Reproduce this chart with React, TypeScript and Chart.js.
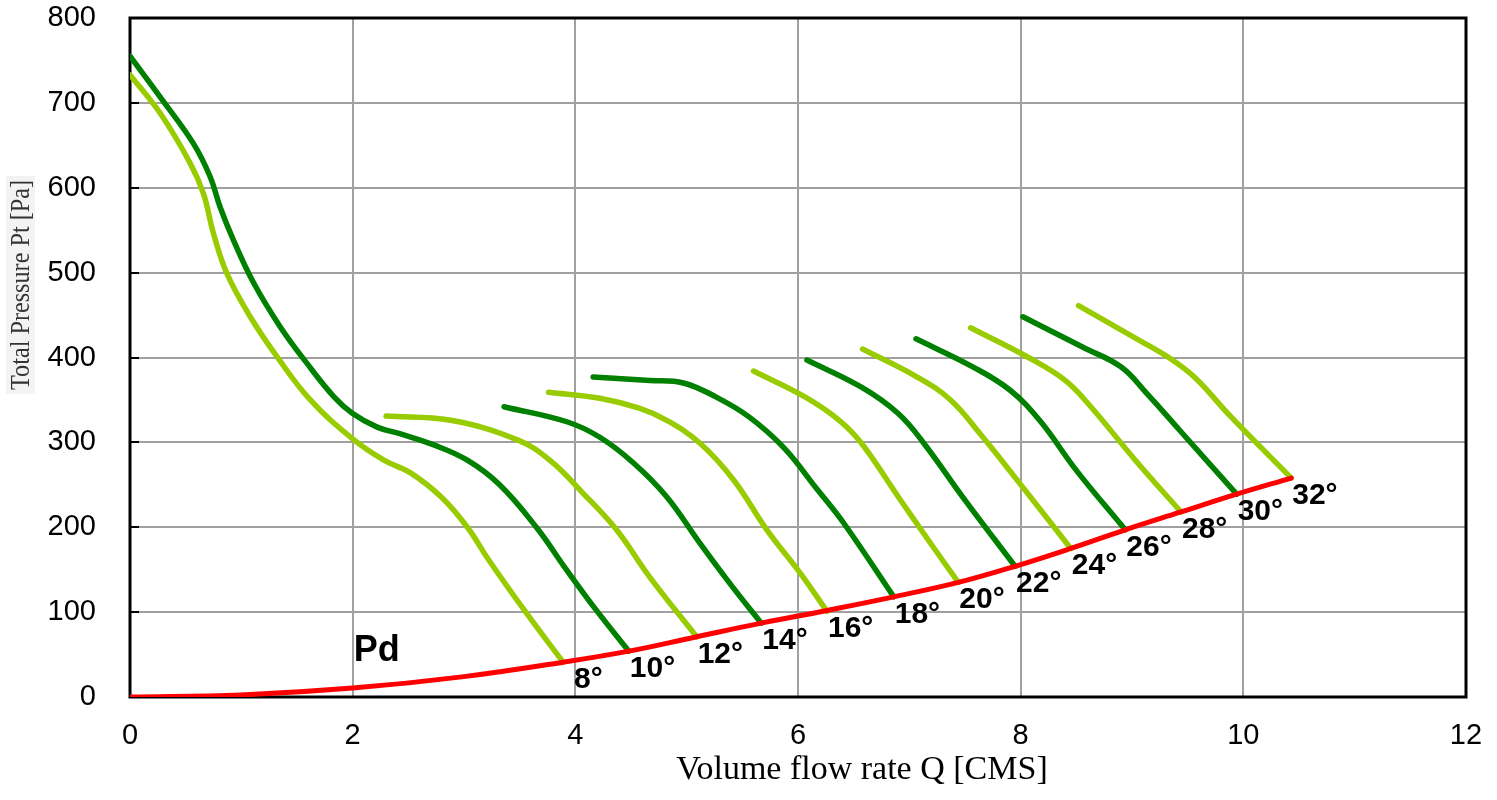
import React, { useEffect, useRef } from "react";
import { Chart, registerables } from "chart.js";

Chart.register(...registerables);

// ---- Data ----
const xTicksMax = 12;
const yTicksMax = 800;

const pdQ = [0, 1, 2, 3, 3.89, 4.48, 5.09, 5.67, 6.26, 6.86, 7.44, 7.95, 8.45, 8.94, 9.44, 9.94, 10.43];
const pdP = [0, 2.5, 10.5, 24, 41, 54, 71, 87, 102, 118, 135, 154, 175, 197, 218, 239, 258];

const q8 = [0, 0.27, 0.54, 0.66, 0.75, 0.87, 1.08, 1.32, 1.62, 2.0, 2.28, 2.52, 2.8, 3.03, 3.23, 3.56, 3.89];
const p8 = [733, 688, 629, 593, 546, 499, 448, 401, 350, 304, 279, 264, 235, 200, 160, 99, 41];

const q10 = [0, 0.27, 0.57, 0.72, 0.81, 0.93, 1.11, 1.35, 1.59, 1.83, 2.0, 2.22, 2.43, 2.73, 3.03, 3.32, 3.65, 3.92, 4.19, 4.48];
const p10 = [755, 707, 652, 613, 577, 538, 488, 436, 393, 354, 334, 318, 310, 297, 279, 250, 200, 150, 102, 54];

const q12 = [2.3, 2.88, 3.48, 3.77, 4.07, 4.37, 4.67, 5.09];
const p12 = [331, 326, 303, 279, 240, 197, 141, 71];

const q14 = [3.36, 3.93, 4.22, 4.52, 4.82, 5.12, 5.41, 5.67];
const p14 = [342, 324, 306, 276, 236, 181, 130, 87];

const q16 = [3.76, 4.22, 4.58, 4.82, 5.12, 5.42, 5.72, 6.02, 6.26];
const p16 = [359, 352, 340, 326, 299, 256, 197, 146, 101];

const q18 = [4.16, 4.67, 4.97, 5.27, 5.56, 5.87, 6.17, 6.41, 6.86];
const p18 = [377, 373, 370, 353, 330, 294, 245, 205, 118];

const q20 = [5.6, 6.07, 6.37, 6.57, 6.9, 7.17, 7.44];
const p20 = [384, 353, 326, 299, 236, 185, 135];

const q22 = [6.08, 6.57, 6.9, 7.13, 7.5, 7.95];
const p22 = [397, 365, 334, 299, 232, 154];

const q24 = [6.58, 7.07, 7.37, 7.63, 7.99, 8.45];
const p24 = [410, 377, 350, 311, 252, 175];

const q26 = [7.06, 7.57, 7.9, 8.17, 8.5, 8.94];
const p26 = [422, 389, 362, 326, 267, 197];

const q28 = [7.55, 8.07, 8.4, 8.63, 9.03, 9.44];
const p28 = [435, 400, 373, 342, 279, 218];

const q30 = [8.02, 8.56, 8.9, 9.13, 9.43, 9.94];
const p30 = [448, 412, 389, 358, 314, 239];

const q32 = [8.52, 9.07, 9.33, 9.56, 9.89, 10.43];
const p32 = [461, 420, 400, 377, 330, 258];

const angleLabels = ["8°", "10°", "12°", "14°", "16°", "18°", "20°", "22°", "24°", "26°", "28°", "30°", "32°"];
const angleQ = [q8, q10, q12, q14, q16, q18, q20, q22, q24, q26, q28, q30, q32];
const angleP = [p8, p10, p12, p14, p16, p18, p20, p22, p24, p26, p28, p30, p32];

const pdLabel = "Pd";
const pdLabelQ = 2.0;
const pdLabelP = 42;

const xTitle = "Volume flow rate Q [CMS]";
const yTitle = "Total Pressure Pt [Pa]";

// ---- Styles ----
const DARK = "#008000";
const LIGHT = "#99cc00";
const RED = "#ff0000";

const toPoints = (qs: number[], ps: number[]) => qs.map((q, i) => ({ x: q, y: ps[i] }));

const overlayPlugin = {
  id: "overlay",
  beforeDatasetsDraw(chart: any) {
    const { ctx, chartArea } = chart;
    const ys = chart.scales.y;
    ctx.save();
    ctx.strokeStyle = "#000";
    ctx.lineWidth = 3;
    ctx.strokeRect(chartArea.left, chartArea.top, chartArea.right - chartArea.left, chartArea.bottom - chartArea.top);
    ctx.lineWidth = 2;
    ys.ticks.forEach((t: any) => {
      const py = Math.round(ys.getPixelForValue(t.value));
      ctx.beginPath();
      ctx.moveTo(chartArea.left, py);
      ctx.lineTo(chartArea.left + 9, py);
      ctx.stroke();
    });
    ctx.restore();
  },
  afterDatasetsDraw(chart: any) {
    const { ctx } = chart;
    const xs = chart.scales.x;
    const ys = chart.scales.y;
    ctx.save();
    ctx.fillStyle = "#000";
    ctx.font = "bold 30px 'Liberation Sans', Arial, sans-serif";
    ctx.textAlign = "left";
    ctx.textBaseline = "alphabetic";
    angleLabels.forEach((lab, i) => {
      const meta = chart.getDatasetMeta(i + 1);
      const pt = meta.data[meta.data.length - 1];
      const dx = i === 0 ? 11 : 1;
      ctx.fillText(lab, pt.x + dx, pt.y + 26);
    });
    ctx.font = "bold 36px 'Liberation Sans', Arial, sans-serif";
    ctx.fillText(pdLabel, xs.getPixelForValue(pdLabelQ) + 1, ys.getPixelForValue(pdLabelP));

    // x axis title
    ctx.font = "34px 'Liberation Serif', 'Times New Roman', serif";
    ctx.textAlign = "center";
    ctx.fillText(xTitle, 862, 779);

    // y axis title (pasted-image look)
    ctx.fillStyle = "#f3f3f3";
    ctx.fillRect(6, 176, 29, 218);
    ctx.translate(29, 285);
    ctx.rotate(-Math.PI / 2);
    ctx.fillStyle = "#333";
    ctx.font = "27px 'Liberation Serif', 'Times New Roman', serif";
    ctx.textAlign = "center";
    ctx.fillText(yTitle, 0, 0, 210);
    ctx.restore();
  },
};

export default function App() {
  const ref = useRef<HTMLCanvasElement | null>(null);

  useEffect(() => {
    if (!ref.current) return;
    const datasets: any[] = [
      {
        label: "Pd",
        data: toPoints(pdQ, pdP),
        borderColor: RED,
        borderWidth: 5,
      },
      ...angleLabels.map((lab, i) => ({
        label: lab,
        data: toPoints(angleQ[i], angleP[i]),
        borderColor: i % 2 === 0 ? LIGHT : DARK,
        borderWidth: 5.5,
      })),
    ].map((d) => ({
      ...d,
      showLine: true,
      pointRadius: 0,
      pointHoverRadius: 0,
      fill: false,
      tension: 0.4,
      borderCapStyle: "round",
      borderJoinStyle: "round",
    }));

    const tickFont = { family: "'Liberation Sans', Arial, sans-serif", size: 29 };
    const chart = new Chart(ref.current, {
      type: "scatter",
      data: { datasets },
      options: {
        animation: false,
        responsive: false,
        devicePixelRatio: 1,
        events: [],
        layout: { padding: { top: 18, right: 31, left: 0, bottom: 0 } },
        plugins: { legend: { display: false }, tooltip: { enabled: false } },
        scales: {
          x: {
            type: "linear",
            min: 0,
            max: xTicksMax,
            afterFit: (s: any) => {
              s.height = 103;
              s.paddingLeft = 0;
              s.paddingRight = 0;
            },
            ticks: { stepSize: 2, color: "#000", font: tickFont, padding: 22, maxRotation: 0 },
            grid: { color: "#a0a0a0", lineWidth: 2, drawTicks: false },
            border: { display: false },
          },
          y: {
            type: "linear",
            min: 0,
            max: yTicksMax,
            afterFit: (s: any) => {
              s.width = 130;
              s.paddingTop = 0;
              s.paddingBottom = 0;
            },
            ticks: { stepSize: 100, color: "#000", font: tickFont, padding: 34 },
            grid: { color: "#a0a0a0", lineWidth: 2, drawTicks: false },
            border: { display: false },
          },
        },
      } as any,
      plugins: [overlayPlugin],
    });
    return () => chart.destroy();
  }, []);

  return (
    <div style={{ position: "fixed", left: 0, top: 0, width: 1497, height: 800, background: "#fff" }}>
      <canvas ref={ref} width={1497} height={800} style={{ display: "block" }} />
    </div>
  );
}
